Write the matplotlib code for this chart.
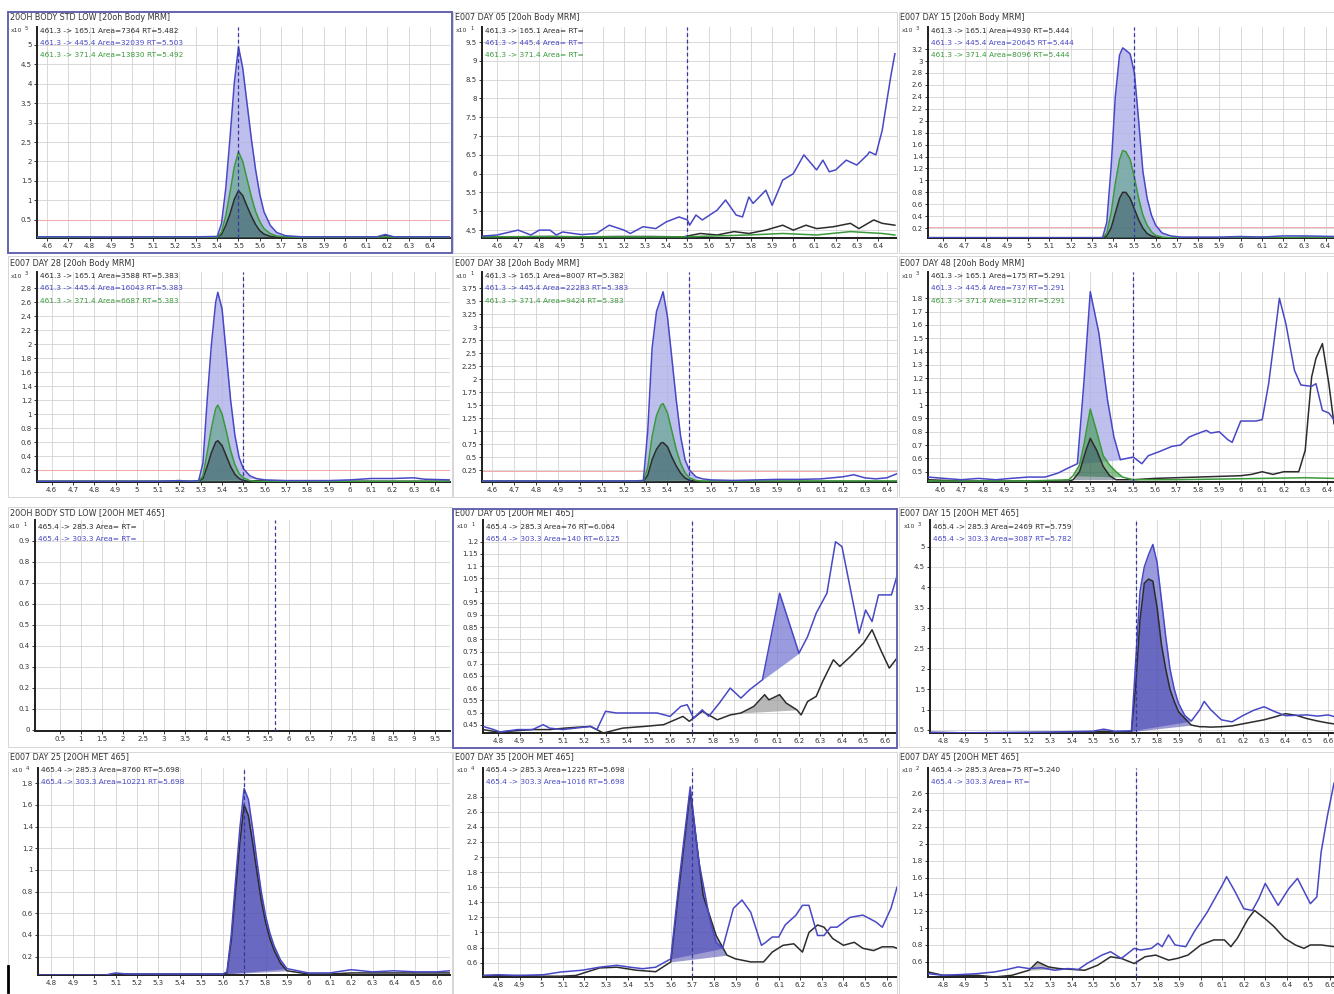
import matplotlib
matplotlib.use("Agg")
import matplotlib.pyplot as plt
from matplotlib.patches import Rectangle
from matplotlib.lines import Line2D
import numpy as np

plt.rcParams['font.family'] = ['DejaVu Sans']

# ------------------------------------------------------------------ data
XT_46 = [4.6, 4.7, 4.8, 4.9, 5.0, 5.1, 5.2, 5.3, 5.4, 5.5, 5.6, 5.7, 5.8, 5.9, 6.0, 6.1, 6.2, 6.3, 6.4]
XT_48 = [4.8, 4.9, 5.0, 5.1, 5.2, 5.3, 5.4, 5.5, 5.6, 5.7, 5.8, 5.9, 6.0, 6.1, 6.2, 6.3, 6.4, 6.5, 6.6]
XT_G = [0.5, 1, 1.5, 2, 2.5, 3, 3.5, 4, 4.5, 5, 5.5, 6, 6.5, 7, 7.5, 8, 8.5, 9, 9.5]

YT_A = [0.5, 1, 1.5, 2, 2.5, 3, 3.5, 4, 4.5, 5]
YT_B = [4.5, 5, 5.5, 6, 6.5, 7, 7.5, 8, 8.5, 9, 9.5]
YT_C = [0.2, 0.4, 0.6, 0.8, 1, 1.2, 1.4, 1.6, 1.8, 2, 2.2, 2.4, 2.6, 2.8, 3, 3.2]
YT_D = [0.2, 0.4, 0.6, 0.8, 1, 1.2, 1.4, 1.6, 1.8, 2, 2.2, 2.4, 2.6, 2.8]
YT_E = [0.25, 0.5, 0.75, 1, 1.25, 1.5, 1.75, 2, 2.25, 2.5, 2.75, 3, 3.25, 3.5, 3.75]
YT_F = [0.5, 0.6, 0.7, 0.8, 0.9, 1, 1.1, 1.2, 1.3, 1.4, 1.5, 1.6, 1.7, 1.8]
YT_G = [0, 0.1, 0.2, 0.3, 0.4, 0.5, 0.6, 0.7, 0.8, 0.9]
YT_H = [0.45, 0.5, 0.55, 0.6, 0.65, 0.7, 0.75, 0.8, 0.85, 0.9, 0.95, 1, 1.05, 1.1, 1.15, 1.2]
YT_I = [0.5, 1, 1.5, 2, 2.5, 3, 3.5, 4, 4.5, 5]
YT_J = [0.2, 0.4, 0.6, 0.8, 1, 1.2, 1.4, 1.6, 1.8]
YT_K = [0.6, 0.8, 1, 1.2, 1.4, 1.6, 1.8, 2, 2.2, 2.4, 2.6, 2.8]
YT_L = [0.6, 0.8, 1, 1.2, 1.4, 1.6, 1.8, 2, 2.2, 2.4, 2.6]

TITLES = ["20OH BODY STD LOW [20oh Body MRM]", "E007 DAY 05 [20oh Body MRM]",
          "E007 DAY 15 [20oh Body MRM]", "E007 DAY 28 [20oh Body MRM]",
          "E007 DAY 38 [20oh Body MRM]", "E007 DAY 48 [20oh Body MRM]",
          "20OH BODY STD LOW [20OH MET 465]", "E007 DAY 05 [20OH MET 465]",
          "E007 DAY 15 [20OH MET 465]", "E007 DAY 25 [20OH MET 465]",
          "E007 DAY 35 [20OH MET 465]", "E007 DAY 45 [20OH MET 465]"]
EXPONENTS = ["5", "1", "3", "3", "1", "3", "1", "1", "3", "4", "4", "2"]

LEG_A = ["461.3 -> 165.1 Area=7364 RT=5.482", "461.3 -> 445.4 Area=32039 RT=5.503", "461.3 -> 371.4 Area=13830 RT=5.492"]
LEG_B = ["461.3 -> 165.1 Area= RT=", "461.3 -> 445.4 Area= RT=", "461.3 -> 371.4 Area= RT="]
LEG_C = ["461.3 -> 165.1 Area=4930 RT=5.444", "461.3 -> 445.4 Area=20645 RT=5.444", "461.3 -> 371.4 Area=8096 RT=5.444"]
LEG_D = ["461.3 -> 165.1 Area=3588 RT=5.383", "461.3 -> 445.4 Area=16043 RT=5.383", "461.3 -> 371.4 Area=6687 RT=5.383"]
LEG_E = ["461.3 -> 165.1 Area=8007 RT=5.382", "461.3 -> 445.4 Area=22283 RT=5.383", "461.3 -> 371.4 Area=9424 RT=5.383"]
LEG_F = ["461.3 -> 165.1 Area=175 RT=5.291", "461.3 -> 445.4 Area=737 RT=5.291", "461.3 -> 371.4 Area=312 RT=5.291"]
LEG_G = ["465.4 -> 285.3 Area= RT=", "465.4 -> 303.3 Area= RT="]
LEG_H = ["465.4 -> 285.3 Area=76 RT=6.064", "465.4 -> 303.3 Area=140 RT=6.125"]
LEG_I = ["465.4 -> 285.3 Area=2469 RT=5.759", "465.4 -> 303.3 Area=3087 RT=5.782"]
LEG_J = ["465.4 -> 285.3 Area=8760 RT=5.698", "465.4 -> 303.3 Area=10221 RT=5.698"]
LEG_K = ["465.4 -> 285.3 Area=1225 RT=5.698", "465.4 -> 303.3 Area=1016 RT=5.698"]
LEG_L = ["465.4 -> 285.3 Area=75 RT=5.240", "465.4 -> 303.3 Area= RT="]

EXPECTED_RT = [5.5, 5.5, 5.5, 5.5, 5.5, 5.5, 5.65, 5.7, 5.7, 5.7, 5.7, 5.7]

# Panel A
A_x = [4.553, 4.7, 4.9, 5.1, 5.3, 5.40, 5.42, 5.44, 5.46, 5.48, 5.50, 5.52, 5.54, 5.56, 5.58, 5.60, 5.62, 5.65, 5.68, 5.72, 5.8, 6.0, 6.15, 6.19, 6.23, 6.3, 6.494]
A_blue = [0.06, 0.06, 0.05, 0.06, 0.06, 0.07, 0.4, 1.3, 2.6, 4.0, 4.95, 4.4, 3.5, 2.6, 1.8, 1.15, 0.7, 0.35, 0.17, 0.09, 0.06, 0.06, 0.06, 0.12, 0.06, 0.06, 0.06]
A_green = [0.05, 0.05, 0.05, 0.05, 0.05, 0.05, 0.18, 0.6, 1.2, 1.85, 2.25, 2.0, 1.55, 1.1, 0.72, 0.45, 0.27, 0.14, 0.08, 0.06, 0.05, 0.05, 0.05, 0.06, 0.05, 0.05, 0.05]
A_black = [0.05, 0.05, 0.05, 0.05, 0.05, 0.05, 0.12, 0.35, 0.65, 1.02, 1.25, 1.12, 0.85, 0.6, 0.38, 0.22, 0.13, 0.07, 0.05, 0.05, 0.05, 0.05, 0.05, 0.1, 0.05, 0.05, 0.05]

# Panel B
B_blue_x = [4.53, 4.6, 4.7, 4.76, 4.8, 4.85, 4.88, 4.91, 4.96, 5.0, 5.07, 5.13, 5.2, 5.23, 5.29, 5.35, 5.4, 5.46, 5.5, 5.51,
            5.54, 5.57, 5.64, 5.68, 5.73, 5.76, 5.79, 5.81, 5.87, 5.9, 5.95, 6.0, 6.05, 6.11, 6.14, 6.17, 6.2, 6.25, 6.3, 6.35,
            6.36, 6.39, 6.42, 6.46, 6.48]
B_blue_y = [4.34, 4.37, 4.5, 4.37, 4.5, 4.5, 4.37, 4.45, 4.41, 4.38, 4.41, 4.63, 4.5, 4.41, 4.59, 4.54, 4.72, 4.85, 4.77, 4.63,
            4.9, 4.77, 5.03, 5.3, 4.9, 4.85, 5.38, 5.21, 5.56, 5.16, 5.83, 6.0, 6.5, 6.1, 6.36, 6.05, 6.1, 6.36, 6.23, 6.5,
            6.58, 6.5, 7.15, 8.57, 9.19]
B_black_x = [4.53, 4.69, 4.85, 5.0, 5.17, 5.32, 5.48, 5.56, 5.64, 5.72, 5.79, 5.87, 5.95, 6.0, 6.06, 6.11, 6.19, 6.27, 6.31, 6.38, 6.42, 6.48]
B_black_y = [4.33, 4.32, 4.33, 4.32, 4.33, 4.33, 4.32, 4.41, 4.37, 4.46, 4.41, 4.5, 4.63, 4.5, 4.63, 4.54, 4.59, 4.68, 4.54, 4.77, 4.68, 4.63]
B_green_x = [4.53, 4.8, 5.1, 5.48, 5.79, 5.95, 6.11, 6.27, 6.42, 6.48]
B_green_y = [4.32, 4.33, 4.32, 4.32, 4.37, 4.41, 4.37, 4.46, 4.41, 4.37]

# Panel C
C_x = [4.528, 4.7, 4.9, 5.1, 5.3, 5.35, 5.37, 5.39, 5.41, 5.43, 5.445, 5.46, 5.48, 5.50, 5.52, 5.54, 5.56, 5.58, 5.60, 5.63, 5.67, 5.72, 5.8, 5.9, 6.0, 6.1, 6.2, 6.3, 6.44]
C_blue = [0.04, 0.04, 0.04, 0.04, 0.04, 0.04, 0.3, 1.2, 2.4, 3.1, 3.22, 3.18, 3.12, 2.8, 2.0, 1.15, 0.7, 0.42, 0.25, 0.12, 0.07, 0.05, 0.05, 0.05, 0.06, 0.05, 0.07, 0.07, 0.06]
C_green = [0.04, 0.04, 0.04, 0.04, 0.04, 0.04, 0.12, 0.45, 0.95, 1.35, 1.5, 1.48, 1.35, 1.05, 0.7, 0.42, 0.25, 0.14, 0.08, 0.05, 0.04, 0.04, 0.04, 0.04, 0.04, 0.05, 0.04, 0.05, 0.04]
C_black = [0.04, 0.04, 0.04, 0.04, 0.04, 0.04, 0.07, 0.2, 0.45, 0.7, 0.8, 0.8, 0.7, 0.52, 0.34, 0.2, 0.11, 0.07, 0.05, 0.04, 0.04, 0.04, 0.04, 0.04, 0.04, 0.04, 0.04, 0.04, 0.04]

# Panel D
D_x = [4.531, 4.7, 4.9, 5.1, 5.2, 5.25, 5.29, 5.31, 5.33, 5.35, 5.37, 5.38, 5.40, 5.42, 5.44, 5.46, 5.48, 5.50, 5.53, 5.56, 5.6, 5.7, 5.8, 5.9, 6.0, 6.1, 6.15, 6.2, 6.3, 6.35, 6.47]
D_blue = [0.04, 0.04, 0.04, 0.04, 0.05, 0.04, 0.05, 0.3, 1.2, 2.0, 2.6, 2.74, 2.5, 1.85, 1.2, 0.7, 0.38, 0.22, 0.12, 0.08, 0.06, 0.05, 0.05, 0.05, 0.06, 0.08, 0.08, 0.08, 0.09, 0.07, 0.06]
D_green = [0.04, 0.04, 0.04, 0.04, 0.05, 0.04, 0.04, 0.12, 0.45, 0.8, 1.08, 1.13, 1.0, 0.75, 0.48, 0.28, 0.15, 0.09, 0.05, 0.04, 0.04, 0.04, 0.04, 0.04, 0.04, 0.04, 0.04, 0.04, 0.04, 0.04, 0.04]
D_black = [0.04, 0.04, 0.04, 0.04, 0.04, 0.04, 0.04, 0.08, 0.25, 0.45, 0.6, 0.62, 0.55, 0.4, 0.25, 0.14, 0.08, 0.05, 0.04, 0.05, 0.05, 0.04, 0.04, 0.04, 0.04, 0.04, 0.04, 0.04, 0.04, 0.04, 0.04]

# Panel E
E_x = [4.554, 4.7, 4.9, 5.1, 5.2, 5.25, 5.29, 5.31, 5.33, 5.35, 5.37, 5.38, 5.40, 5.42, 5.44, 5.46, 5.48, 5.50, 5.53, 5.56, 5.6, 5.7, 5.8, 5.9, 6.0, 6.1, 6.2, 6.25, 6.3, 6.35, 6.4, 6.447]
E_blue = [0.04, 0.04, 0.04, 0.04, 0.04, 0.04, 0.05, 1.0, 2.6, 3.3, 3.55, 3.68, 3.2, 2.4, 1.6, 0.9, 0.45, 0.25, 0.12, 0.08, 0.06, 0.05, 0.06, 0.07, 0.07, 0.08, 0.12, 0.16, 0.1, 0.08, 0.1, 0.18]
E_green = [0.04, 0.04, 0.04, 0.04, 0.04, 0.04, 0.04, 0.3, 0.9, 1.3, 1.5, 1.53, 1.35, 1.0, 0.65, 0.38, 0.2, 0.1, 0.05, 0.04, 0.04, 0.04, 0.04, 0.04, 0.04, 0.04, 0.04, 0.04, 0.04, 0.04, 0.04, 0.04]
E_black = [0.03, 0.03, 0.03, 0.03, 0.03, 0.03, 0.03, 0.15, 0.45, 0.65, 0.77, 0.78, 0.7, 0.5, 0.33, 0.19, 0.1, 0.05, 0.04, 0.03, 0.03, 0.03, 0.03, 0.03, 0.03, 0.03, 0.03, 0.03, 0.03, 0.03, 0.03, 0.03]

# Panel F
F_blue_x = [4.545, 4.62, 4.7, 4.78, 4.86, 4.93, 5.01, 5.09, 5.15, 5.2, 5.24, 5.27, 5.30, 5.34, 5.38, 5.41, 5.44, 5.5, 5.54, 5.57,
            5.62, 5.68, 5.72, 5.76, 5.79, 5.84, 5.86, 5.9, 5.94, 5.96, 6.0, 6.07, 6.1, 6.13, 6.16, 6.18, 6.21, 6.25, 6.28, 6.33,
            6.35, 6.38, 6.41, 6.434]
F_blue_y = [0.46, 0.45, 0.44, 0.45, 0.44, 0.45, 0.46, 0.46, 0.49, 0.53, 0.56, 1.16, 1.85, 1.54, 1.04, 0.76, 0.59, 0.61, 0.56, 0.62,
            0.65, 0.69, 0.7, 0.76, 0.78, 0.81, 0.79, 0.8, 0.74, 0.72, 0.88, 0.88, 0.89, 1.16, 1.54, 1.8, 1.61, 1.26, 1.15, 1.14,
            1.16, 0.96, 0.94, 0.89]
F_black_x = [4.545, 4.7, 4.9, 5.1, 5.2, 5.22, 5.25, 5.28, 5.30, 5.33, 5.36, 5.39, 5.42, 5.5, 5.6, 5.7, 5.8, 5.9, 6.0, 6.05,
             6.1, 6.15, 6.2, 6.27, 6.30, 6.33, 6.35, 6.38, 6.41, 6.434]
F_black_y = [0.44, 0.43, 0.43, 0.43, 0.43, 0.44, 0.5, 0.66, 0.75, 0.66, 0.54, 0.47, 0.44, 0.44, 0.45, 0.455, 0.46, 0.465, 0.47, 0.48,
             0.5, 0.48, 0.5, 0.5, 0.66, 1.21, 1.35, 1.46, 1.16, 0.86]
F_green_x = [4.545, 4.8, 5.0, 5.2, 5.22, 5.25, 5.27, 5.30, 5.33, 5.36, 5.39, 5.42, 5.45, 5.5, 5.7, 5.9, 6.1, 6.3, 6.434]
F_green_y = [0.43, 0.43, 0.43, 0.44, 0.47, 0.55, 0.7, 0.97, 0.8, 0.62, 0.55, 0.5, 0.46, 0.44, 0.44, 0.445, 0.45, 0.455, 0.45]

# Panel H
H_blue_x = [4.73, 4.78, 4.81, 4.89, 4.96, 5.01, 5.04, 5.1, 5.16, 5.23, 5.26, 5.3, 5.35, 5.41, 5.48, 5.54, 5.6, 5.65, 5.68, 5.71,
            5.75, 5.78, 5.83, 5.88, 5.93, 5.97, 6.03, 6.11, 6.2, 6.24, 6.28, 6.33, 6.37, 6.4, 6.48, 6.51, 6.54, 6.57, 6.63, 6.656]
H_blue_y = [0.443, 0.43, 0.42, 0.43, 0.43, 0.45, 0.436, 0.43, 0.436, 0.443, 0.43, 0.505, 0.498, 0.498, 0.498, 0.498, 0.484, 0.525, 0.532, 0.477,
            0.511, 0.484, 0.539, 0.6, 0.559, 0.593, 0.634, 0.989, 0.743, 0.811, 0.907, 0.989, 1.2, 1.18, 0.825, 0.92, 0.873, 0.982, 0.982, 1.06]
H_black_x = [4.73, 4.8, 4.96, 5.04, 5.11, 5.23, 5.29, 5.38, 5.48, 5.57, 5.66, 5.69, 5.75, 5.82, 5.88, 5.93, 5.99, 6.04, 6.06, 6.11,
             6.14, 6.19, 6.21, 6.24, 6.28, 6.31, 6.36, 6.39, 6.44, 6.5, 6.54, 6.58, 6.62, 6.656]
H_black_y = [0.43, 0.42, 0.43, 0.43, 0.436, 0.443, 0.416, 0.436, 0.443, 0.45, 0.484, 0.464, 0.505, 0.47, 0.49, 0.498, 0.525, 0.573, 0.552, 0.573,
             0.539, 0.511, 0.49, 0.545, 0.566, 0.627, 0.716, 0.689, 0.73, 0.784, 0.839, 0.757, 0.682, 0.723]

# Panel I
I_x = [4.738, 4.9, 5.1, 5.3, 5.5, 5.55, 5.6, 5.68, 5.70, 5.72, 5.74, 5.76, 5.78, 5.80, 5.82, 5.84, 5.86, 5.88, 5.90, 5.93,
       5.96, 6.0, 6.02, 6.05, 6.1, 6.15, 6.2, 6.25, 6.3, 6.35, 6.4, 6.45, 6.5, 6.55, 6.6, 6.627]
I_blue = [0.44, 0.43, 0.44, 0.45, 0.47, 0.52, 0.47, 0.48, 2.2, 3.9, 4.5, 4.8, 5.05, 4.6, 3.7, 2.8, 2.0, 1.5, 1.15, 0.85,
          0.72, 1.0, 1.2, 1.0, 0.75, 0.7, 0.85, 0.98, 1.07, 0.95, 0.85, 0.86, 0.87, 0.84, 0.87, 0.83]
I_black = [0.44, 0.43, 0.43, 0.44, 0.45, 0.47, 0.45, 0.46, 1.6, 3.2, 4.1, 4.2, 4.15, 3.5, 2.6, 2.0, 1.5, 1.2, 0.95, 0.78,
           0.62, 0.58, 0.58, 0.57, 0.58, 0.6, 0.65, 0.7, 0.75, 0.82, 0.9, 0.86, 0.78, 0.72, 0.67, 0.65]

# Panel J
J_x = [4.737, 4.9, 5.05, 5.1, 5.15, 5.3, 5.5, 5.6, 5.62, 5.64, 5.66, 5.68, 5.70, 5.72, 5.74, 5.76, 5.78, 5.80, 5.82, 5.84,
       5.87, 5.9, 6.0, 6.1, 6.2, 6.3, 6.4, 6.5, 6.6, 6.662]
J_blue = [0.03, 0.03, 0.03, 0.05, 0.04, 0.04, 0.04, 0.04, 0.06, 0.4, 0.9, 1.38, 1.75, 1.65, 1.38, 1.08, 0.8, 0.58, 0.42, 0.3,
          0.17, 0.09, 0.05, 0.05, 0.08, 0.06, 0.07, 0.06, 0.06, 0.07]
J_black = [0.03, 0.03, 0.03, 0.04, 0.04, 0.04, 0.04, 0.04, 0.05, 0.35, 0.8, 1.25, 1.6, 1.5, 1.25, 0.98, 0.72, 0.52, 0.37, 0.26,
           0.14, 0.07, 0.04, 0.04, 0.05, 0.05, 0.05, 0.05, 0.05, 0.05]

# Panel K
K_blue_x = [4.73, 4.8, 4.88, 5.01, 5.09, 5.19, 5.27, 5.35, 5.41, 5.47, 5.53, 5.6, 5.64, 5.69, 5.73, 5.78, 5.81, 5.84, 5.89, 5.93,
            5.97, 6.02, 6.04, 6.07, 6.1, 6.13, 6.18, 6.21, 6.24, 6.28, 6.31, 6.34, 6.37, 6.43, 6.49, 6.55, 6.58, 6.62, 6.648]
K_blue_y = [0.43, 0.44, 0.43, 0.44, 0.476, 0.5, 0.54, 0.565, 0.54, 0.52, 0.54, 0.65, 1.72, 2.93, 1.94, 1.18, 0.87, 0.79, 1.32, 1.43,
            1.27, 0.83, 0.87, 0.94, 0.94, 1.1, 1.23, 1.36, 1.36, 0.96, 0.96, 1.07, 1.07, 1.2, 1.23, 1.14, 1.07, 1.32, 1.6]
K_black_x = [4.73, 4.88, 5.01, 5.09, 5.16, 5.27, 5.35, 5.44, 5.53, 5.6, 5.64, 5.69, 5.75, 5.81, 5.86, 5.9, 5.97, 6.03, 6.07, 6.12,
             6.17, 6.21, 6.24, 6.28, 6.31, 6.35, 6.4, 6.45, 6.49, 6.54, 6.58, 6.63, 6.648]
K_black_y = [0.43, 0.43, 0.42, 0.42, 0.43, 0.53, 0.54, 0.5, 0.48, 0.61, 1.63, 2.87, 1.49, 0.96, 0.7, 0.65, 0.61, 0.61, 0.74, 0.83,
             0.85, 0.74, 1.0, 1.1, 1.07, 0.92, 0.83, 0.87, 0.79, 0.76, 0.81, 0.81, 0.79]

# Panel L
L_blue_x = [4.73, 4.8, 4.89, 4.96, 5.04, 5.1, 5.15, 5.2, 5.26, 5.32, 5.38, 5.43, 5.47, 5.54, 5.58, 5.63, 5.69, 5.72, 5.77, 5.8,
            5.82, 5.85, 5.88, 5.93, 5.97, 6.03, 6.1, 6.12, 6.16, 6.2, 6.24, 6.27, 6.3, 6.36, 6.41, 6.45, 6.47, 6.51, 6.54, 6.56,
            6.59, 6.62]
L_blue_y = [0.46, 0.44, 0.45, 0.46, 0.48, 0.51, 0.54, 0.52, 0.53, 0.5, 0.52, 0.51, 0.58, 0.68, 0.72, 0.64, 0.76, 0.74, 0.76, 0.82,
            0.78, 0.92, 0.8, 0.78, 0.96, 1.19, 1.51, 1.61, 1.43, 1.23, 1.21, 1.35, 1.53, 1.27, 1.47, 1.59, 1.49, 1.29, 1.37, 1.9,
            2.34, 2.72]
L_black_x = [4.73, 4.8, 4.96, 5.04, 5.12, 5.2, 5.24, 5.29, 5.34, 5.4, 5.46, 5.52, 5.58, 5.63, 5.69, 5.74, 5.79, 5.85, 5.89, 5.94,
             6.0, 6.06, 6.11, 6.14, 6.17, 6.22, 6.25, 6.3, 6.34, 6.39, 6.44, 6.48, 6.51, 6.56, 6.62]
L_black_y = [0.48, 0.44, 0.44, 0.42, 0.44, 0.5, 0.6, 0.54, 0.52, 0.51, 0.5, 0.56, 0.66, 0.64, 0.58, 0.66, 0.68, 0.62, 0.64, 0.68,
             0.8, 0.86, 0.86, 0.78, 0.88, 1.11, 1.21, 1.11, 1.02, 0.88, 0.8, 0.76, 0.8, 0.8, 0.78]

# ------------------------------------------------------------------ style
BLUE = '#4848c6'
GREEN = '#3a9a3a'
BLACK = '#2c2c2c'
FB1, FG1, FK1 = '#b0b0ea', '#4f9f78', '#2f4a5a'      # fills rows 1-2
FB2, FK2 = '#7070d0', '#3a3aa6'                     # fills rows 3-4
RTC = '#3636a0'

W, H = 1334, 994
fig = plt.figure(figsize=(W / 100, H / 100), dpi=100)
fig.patch.set_facecolor('white')


def add_ax(l, r, t, b):
    return fig.add_axes([l / W, 1 - b / H, (r - l) / W, (b - t) / H])


def ftext(px, py, s, **kw):
    fig.text(px / W, 1 - py / H, s, va='center', ha='left', **kw)


def fill_peak(ax, x, y, x0, x1, color, alpha, z):
    x = np.asarray(x, float)
    y = np.asarray(y, float)
    m = (x >= x0 - 1e-9) & (x <= x1 + 1e-9)
    xs, ys = x[m], y[m]
    base = np.interp(xs, [xs[0], xs[-1]], [ys[0], ys[-1]])
    ax.fill_between(xs, ys, base, color=color, alpha=alpha, lw=0, zorder=z)


panels = [
    dict(box=(37, 450, 27, 238), xlim=(4.553, 6.494), ylim=(0.03, 5.46), xt=XT_46, yt=YT_A, leg=LEG_A,
         traces=[(A_x, A_blue, BLUE, (5.40, 5.72, FB1, 0.8)), (A_x, A_green, GREEN, (5.40, 5.72, FG1, 0.55)),
                 (A_x, A_black, BLACK, (5.40, 5.68, FK1, 0.45))], thr=0.5),
    dict(box=(482, 897, 27, 238), xlim=(4.529, 6.49), ylim=(4.29, 9.9), xt=XT_46, yt=YT_B, leg=LEG_B,
         traces=[(B_blue_x, B_blue_y, BLUE, None), (B_green_x, B_green_y, GREEN, None),
                 (B_black_x, B_black_y, BLACK, None)], thr=None),
    dict(box=(928, 1334, 27, 238), xlim=(4.528, 6.44), ylim=(0.035, 3.57), xt=XT_46, yt=YT_C, leg=LEG_C,
         traces=[(C_x, C_blue, BLUE, (5.35, 5.67, FB1, 0.8)), (C_x, C_green, GREEN, (5.35, 5.63, FG1, 0.55)),
                 (C_x, C_black, BLACK, (5.35, 5.60, FK1, 0.45))], thr=0.22),
    dict(box=(37, 450, 272, 482), xlim=(4.531, 6.47), ylim=(0.03, 3.03), xt=XT_46, yt=YT_D, leg=LEG_D,
         traces=[(D_x, D_blue, BLUE, (5.29, 5.56, FB1, 0.8)), (D_x, D_green, GREEN, (5.29, 5.53, FG1, 0.55)),
                 (D_x, D_black, BLACK, (5.29, 5.50, FK1, 0.45))], thr=0.2),
    dict(box=(482, 897, 272, 482), xlim=(4.554, 6.447), ylim=(0.02, 4.06), xt=XT_46, yt=YT_E, leg=LEG_E,
         traces=[(E_x, E_blue, BLUE, (5.29, 5.56, FB1, 0.8)), (E_x, E_green, GREEN, (5.29, 5.53, FG1, 0.55)),
                 (E_x, E_black, BLACK, (5.29, 5.50, FK1, 0.45))], thr=0.24),
    dict(box=(928, 1334, 272, 482), xlim=(4.545, 6.434), ylim=(0.423, 1.997), xt=XT_46, yt=YT_F, leg=LEG_F,
         traces=[(F_blue_x, F_blue_y, BLUE, (5.24, 5.44, FB1, 0.8)), (F_green_x, F_green_y, GREEN, (5.22, 5.45, '#3f9a4a', 0.6)),
                 (F_black_x, F_black_y, BLACK, (5.22, 5.42, FK1, 0.45))], thr=None),
    dict(box=(35, 450, 520, 731), xlim=(-0.1, 9.86), ylim=(-0.005, 1.0), xt=XT_G, yt=YT_G, leg=LEG_G,
         traces=[], thr=None),
    dict(box=(483, 897, 520, 733), xlim=(4.73, 6.656), ylim=(0.416, 1.289), xt=XT_48, yt=YT_H, leg=LEG_H,
         traces=[(H_blue_x, H_blue_y, BLUE, (6.03, 6.2, FB2, 0.7)), (H_black_x, H_black_y, BLACK, (5.93, 6.19, '#9a9a9a', 0.7))],
         thr=None),
    dict(box=(930, 1334, 520, 733), xlim=(4.738, 6.627), ylim=(0.426, 5.65), xt=XT_48, yt=YT_I, leg=LEG_I,
         traces=[(I_x, I_blue, BLUE, (5.68, 5.96, FB2, 0.7)), (I_x, I_black, BLACK, (5.68, 5.96, FK2, 0.5))], thr=None),
    dict(box=(38, 450, 768, 975), xlim=(4.737, 6.662), ylim=(0.031, 1.94), xt=XT_48, yt=YT_J, leg=LEG_J,
         traces=[(J_x, J_blue, BLUE, (5.6, 5.9, FB2, 0.7)), (J_x, J_black, BLACK, (5.6, 5.9, FK2, 0.5))], thr=None),
    dict(box=(483, 897, 768, 977), xlim=(4.73, 6.648), ylim=(0.41, 3.18), xt=XT_48, yt=YT_K, leg=LEG_K,
         traces=[(K_blue_x, K_blue_y, BLUE, (5.6, 5.84, FB2, 0.7)), (K_black_x, K_black_y, BLACK, (5.6, 5.86, FK2, 0.5))],
         thr=None),
    dict(box=(928, 1334, 768, 977), xlim=(4.73, 6.62), ylim=(0.42, 2.9), xt=XT_48, yt=YT_L, leg=LEG_L,
         traces=[(L_blue_x, L_blue_y, BLUE, None), (L_black_x, L_black_y, BLACK, (5.2, 5.34, '#8a8a8a', 0.6))], thr=None),
]

TITLE_Y = [17, 17, 17, 264, 264, 264, 513, 513, 513, 757, 757, 757]
TITLE_X = [10, 455, 900] * 4
LEG_Y3 = [[31, 43, 55], [276, 288, 301]]
LEG_Y2 = [[527, 539], [770, 782]]

for i, p in enumerate(panels):
    l, r, t, b = p['box']
    ax = add_ax(l, r, t, b)
    ax.set_facecolor('white')
    ax.set_xlim(*p['xlim'])
    ax.set_ylim(*p['ylim'])
    ax.set_xticks(p['xt'])
    ax.set_xticklabels([f'{v:g}' for v in p['xt']])
    ax.set_yticks(p['yt'])
    ax.set_yticklabels([f'{v:g}' for v in p['yt']])
    ax.grid(True, color='#d3d3d3', lw=0.6)
    ax.set_axisbelow(True)
    for s in ('top', 'right'):
        ax.spines[s].set_visible(False)
    for s in ('left', 'bottom'):
        ax.spines[s].set_color('#1e1e1e')
        ax.spines[s].set_linewidth(1.4)
    ax.tick_params(labelsize=5.0, length=2.5, width=0.7, pad=1.2, colors='#333333')
    if p['thr'] is not None:
        ax.axhline(p['thr'], color='#f2a8a8', lw=0.7, zorder=1.5)
    for k, (x, y, c, f) in enumerate(p['traces']):
        if f is not None:
            fill_peak(ax, x, y, f[0], f[1], f[2], f[3], 2 + k)
    for k, (x, y, c, f) in enumerate(p['traces']):
        ax.plot(x, y, color=c, lw=1.1, zorder=7 - k * 0.5, solid_joinstyle='round')
    ax.axvline(EXPECTED_RT[i], color=RTC, ls=(0, (3, 2.2)), lw=0.9, zorder=8)

    ftext(TITLE_X[i], TITLE_Y[i], TITLES[i], fontsize=5.8, color='#333333')
    row = i // 3
    legs = p['leg']
    if row < 2:
        ys = LEG_Y3[row]
        cols = [BLACK, BLUE, GREEN]
    else:
        ys = LEG_Y2[row - 2]
        cols = [BLACK, BLUE]
    for s, yy, c in zip(legs, ys, cols):
        ftext(l + 3, yy, s, fontsize=5.3, color=c)
    ftext(l - 26, ys[0], 'x10', fontsize=4.4, color='#333333')
    ftext(l - 12, ys[0] - 2, EXPONENTS[i], fontsize=3.8, color='#333333')

frames = [(8, 12, 452, 253), (453, 12, 897, 253), (899, 12, 1334, 253),
          (8, 256, 452, 497), (453, 256, 897, 497), (899, 256, 1334, 497),
          (8, 507, 452, 747), (453, 509, 897, 748), (899, 507, 1334, 747),
          (8, 752, 452, 994), (453, 752, 897, 994), (899, 752, 1334, 994)]
for j, (x0, y0, x1, y1) in enumerate(frames):
    selected = j in (0, 7)
    fig.add_artist(Rectangle((x0 / W, 1 - y1 / H), (x1 - x0) / W, (y1 - y0) / H,
                             transform=fig.transFigure, fill=False,
                             ec='#6464b0' if selected else '#d6d6d6',
                             lw=1.4 if selected else 0.7, zorder=20))

fig.add_artist(Line2D([8 / W, 8 / W], [1 - 966 / H, 1 - 992 / H], transform=fig.transFigure,
                      color='black', lw=2.0, zorder=25))

fig.savefig('out.png', dpi=100, facecolor='white')
